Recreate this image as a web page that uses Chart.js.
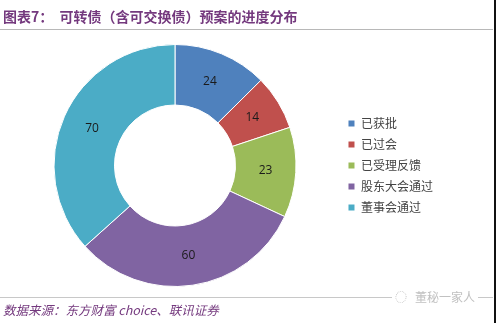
<!DOCTYPE html>
<html>
<head>
<meta charset="utf-8">
<script src="https://cdn.jsdelivr.net/npm/chart.js@4/dist/chart.umd.min.js"></script>
<style>
  html, body { margin: 0; padding: 0; background: #fff; }
  #wrap { position: relative; width: 496px; height: 323px; overflow: hidden; }
  #title {
    position: absolute; left: 3px; top: 6px;
    font: bold 14px "Noto Sans CJK SC", sans-serif; color: #74397e;
    white-space: pre;
  }
  #rule-top { position: absolute; left: 0; top: 29px; width: 493px; height: 1px; background: #b8b8b8; }
  #rule-bot { position: absolute; left: 0; top: 297px; width: 493px; height: 1px; background: #c8c8c8; }
  #source {
    position: absolute; left: 3px; top: 300px;
    font: italic 12.5px "Noto Sans CJK SC", sans-serif; color: #74397e;
  }
  #mark {
    position: absolute; left: 392px; top: 288px; padding: 0 3px;
    background: #fff; font: 12px "Noto Sans CJK SC", sans-serif; color: #c0c0c0;
  }
  #edge { position: absolute; right: 0; top: 0; width: 2px; height: 323px; background: #111; }
  #chart { position: absolute; left: 0; top: 0; }
</style>
</head>
<body>
<div id="wrap">
  <canvas id="chart" width="494" height="323"></canvas>
  <div id="title">图表7：  可转债（含可交换债）预案的进度分布</div>
  <div id="rule-top"></div>
  <div id="rule-bot"></div>
  <div id="source">数据来源：东方财富 choice、联讯证券</div>
  <div id="mark">◌&nbsp;&nbsp;&nbsp;董秘一家人</div>
  <div id="edge"></div>
</div>
<script>
// Progress stages of convertible bond proposals
const stages = ['已获批', '已过会', '已受理反馈', '股东大会通过', '董事会通过'];
const counts = [24, 14, 23, 60, 70];
const colors = ['#4f81bd', '#c0504d', '#9bbb59', '#8064a2', '#4bacc6'];

// value labels in the middle of each ring segment
const sliceLabels = {
  id: 'sliceLabels',
  afterDatasetsDraw(chart) {
    const ctx = chart.ctx;
    const meta = chart.getDatasetMeta(0);
    ctx.save();
    ctx.font = '12px "Open Sans", sans-serif';
    ctx.fillStyle = '#1a1a1a';
    ctx.textAlign = 'center';
    ctx.textBaseline = 'middle';
    meta.data.forEach((arc, i) => {
      const p = arc.tooltipPosition();
      ctx.fillText(String(chart.data.datasets[0].data[i]), p.x, p.y);
    });
    ctx.restore();
  }
};

new Chart(document.getElementById('chart').getContext('2d'), {
  type: 'doughnut',
  data: {
    labels: stages,
    datasets: [{
      data: counts,
      backgroundColor: colors,
      borderColor: '#ffffff',
      borderWidth: 1
    }]
  },
  options: {
    responsive: false,
    animation: false,
    cutout: '50%',
    layout: { padding: { top: 44, bottom: 36, left: 11, right: 51 } },
    plugins: {
      legend: {
        position: 'right',
        labels: {
          boxWidth: 7,
          boxHeight: 7,
          padding: 9,
          color: '#444',
          font: { family: '"Noto Sans CJK SC", sans-serif', size: 12 }
        }
      },
      tooltip: { enabled: false }
    }
  },
  plugins: [sliceLabels]
});
</script>
</body>
</html>
